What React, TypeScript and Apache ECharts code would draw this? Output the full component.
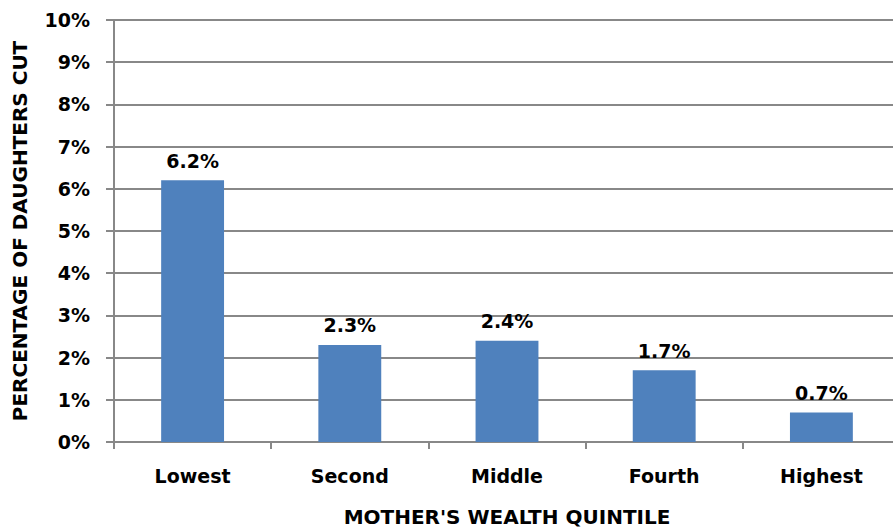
import React, { useEffect, useRef } from "react";
import * as echarts from "echarts";

const categories = ["Lowest", "Second", "Middle", "Fourth", "Highest"];
const values = [6.2, 2.3, 2.4, 1.7, 0.7];
const yTicks = [0, 1, 2, 3, 4, 5, 6, 7, 8, 9, 10];

const FONT = "DejaVu Sans";
const GRAY = "#888888";

export default function App() {
  const ref = useRef<HTMLDivElement>(null);
  useEffect(() => {
    const chart = echarts.init(ref.current!, null, { renderer: "svg" });
    chart.setOption({
      animation: false,
      backgroundColor: "#ffffff",
      grid: { left: 114, right: -7, top: 20, bottom: 87, containLabel: false, outerBoundsMode: "none" },
      xAxis: {
        type: "category",
        data: categories,
        name: "MOTHER'S WEALTH QUINTILE",
        nameLocation: "middle",
        nameGap: 65,
        nameTextStyle: { fontFamily: FONT, fontWeight: "bold", fontSize: 20, color: "#000" },
        axisLine: { lineStyle: { color: GRAY, width: 2 } },
        axisTick: { show: true, alignWithLabel: false, length: 7, lineStyle: { color: GRAY, width: 2 } },
        axisLabel: { fontFamily: FONT, fontWeight: "bold", fontSize: 19, color: "#000", margin: 24 },
      },
      yAxis: {
        type: "value",
        min: yTicks[0],
        max: yTicks[yTicks.length - 1],
        interval: 1,
        name: "PERCENTAGE OF DAUGHTERS CUT",
        nameLocation: "middle",
        nameGap: 84,
        nameRotate: 90,
        nameTextStyle: { fontFamily: FONT, fontWeight: "bold", fontSize: 20, color: "#000" },
        axisLine: { show: true, lineStyle: { color: GRAY, width: 2 } },
        axisTick: { show: true, length: 8, lineStyle: { color: GRAY, width: 2 } },
        splitLine: { show: true, lineStyle: { color: GRAY, width: 2 } },
        axisLabel: {
          fontFamily: FONT,
          fontWeight: "bold",
          fontSize: 19,
          color: "#000",
          margin: 24,
          formatter: (v: number) => `${v}%`,
        },
      },
      series: [
        {
          type: "bar",
          data: values,
          barWidth: "40%",
          itemStyle: { color: "#4F81BD" },
          label: {
            show: true,
            position: "top",
            distance: 10,
            fontFamily: FONT,
            fontWeight: "bold",
            fontSize: 19,
            color: "#000",
            formatter: (p: any) => `${p.value}%`,
          },
        },
      ],
    });
    return () => chart.dispose();
  }, []);
  return <div ref={ref} style={{ width: 893, height: 529, position: "absolute", left: 0, top: 0 }} />;
}
